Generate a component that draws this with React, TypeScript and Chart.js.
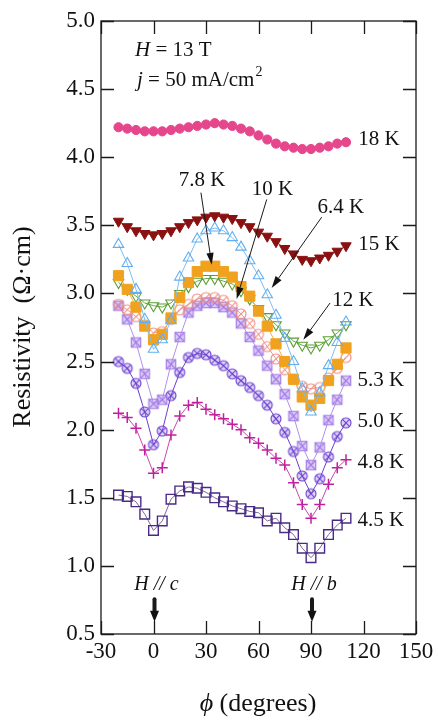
import React, { useEffect, useRef } from "react";
import { Chart, registerables } from "chart.js";
Chart.register(...registerables);

// ---- data ----
const angles = [-20, -15, -10, -5, 0, 5, 10, 15, 20, 25, 30, 35, 40, 45, 50, 55, 60, 65, 70, 75, 80, 85, 90, 95, 100, 105, 110];
const xTickValues = [-30, 0, 30, 60, 90, 120, 150];
const yTickValues = [0.5, 1.0, 1.5, 2.0, 2.5, 3.0, 3.5, 4.0, 4.5, 5.0];

const rho18K = [4.22, 4.21, 4.20, 4.19, 4.19, 4.19, 4.20, 4.21, 4.22, 4.23, 4.24, 4.25, 4.24, 4.23, 4.21, 4.19, 4.16, 4.13, 4.10, 4.08, 4.07, 4.06, 4.06, 4.07, 4.08, 4.10, 4.11];
const rho15K = [3.53, 3.49, 3.46, 3.44, 3.43, 3.44, 3.46, 3.49, 3.52, 3.54, 3.56, 3.57, 3.56, 3.55, 3.52, 3.49, 3.45, 3.42, 3.38, 3.33, 3.29, 3.25, 3.24, 3.26, 3.28, 3.31, 3.35];
const rho12K = [3.08, 3.03, 2.98, 2.93, 2.91, 2.90, 2.93, 3.00, 3.05, 3.09, 3.11, 3.11, 3.09, 3.07, 3.02, 2.96, 2.89, 2.83, 2.77, 2.71, 2.65, 2.62, 2.60, 2.62, 2.66, 2.71, 2.77];
const rho10K = [2.92, 2.88, 2.83, 2.77, 2.71, 2.72, 2.81, 2.88, 2.92, 2.96, 2.97, 2.97, 2.95, 2.91, 2.85, 2.78, 2.70, 2.61, 2.52, 2.44, 2.37, 2.32, 2.30, 2.31, 2.38, 2.45, 2.53];
const rho7_8K = [3.36, 3.22, 3.03, 2.81, 2.59, 2.66, 2.80, 3.12, 3.26, 3.40, 3.46, 3.48, 3.46, 3.41, 3.34, 3.24, 3.13, 2.99, 2.84, 2.67, 2.50, 2.30, 2.13, 2.27, 2.47, 2.64, 2.79];
const rho6_4K = [3.13, 3.03, 2.90, 2.76, 2.66, 2.70, 2.82, 2.97, 3.08, 3.16, 3.20, 3.20, 3.16, 3.12, 3.05, 2.98, 2.87, 2.76, 2.63, 2.50, 2.37, 2.24, 2.18, 2.23, 2.36, 2.48, 2.60];
const rho5_3K = [2.91, 2.81, 2.64, 2.41, 2.19, 2.22, 2.48, 2.68, 2.86, 2.91, 2.93, 2.93, 2.90, 2.86, 2.78, 2.68, 2.58, 2.47, 2.37, 2.26, 2.10, 1.88, 1.74, 1.87, 2.07, 2.22, 2.36];
const rho5_0K = [2.50, 2.45, 2.34, 2.13, 1.89, 1.99, 2.25, 2.42, 2.53, 2.56, 2.55, 2.51, 2.47, 2.41, 2.36, 2.31, 2.25, 2.18, 2.08, 1.98, 1.84, 1.66, 1.53, 1.64, 1.80, 1.95, 2.05];
const rho4_8K = [2.12, 2.09, 2.01, 1.85, 1.68, 1.72, 1.96, 2.10, 2.18, 2.20, 2.15, 2.11, 2.08, 2.04, 2.00, 1.94, 1.90, 1.85, 1.79, 1.74, 1.61, 1.45, 1.35, 1.45, 1.60, 1.72, 1.78];
const rho4_5K = [1.52, 1.51, 1.47, 1.38, 1.26, 1.33, 1.49, 1.55, 1.58, 1.57, 1.54, 1.50, 1.47, 1.44, 1.42, 1.40, 1.39, 1.33, 1.35, 1.28, 1.23, 1.13, 1.06, 1.13, 1.23, 1.30, 1.35];

// temperature labels (text, data-space anchor)
const tempLabels: [string, number, number][] = [
  ["18 K", 117, 4.13],
  ["15 K", 117, 3.36],
  ["5.3 K", 116.5, 2.36],
  ["5.0 K", 116.5, 2.06],
  ["4.8 K", 116.5, 1.76],
  ["4.5 K", 116.5, 1.33],
];
const centeredLabels: [string, number, number][] = [
  ["7.8 K", 27.7, 3.83],
  ["10 K", 68, 3.76],
  ["6.4 K", 107, 3.63],
  ["12 K", 114, 2.945],
];
const pointerArrows: [number, number, number, number][] = [
  [27.1, 3.74, 33.3, 3.21],
  [64.7, 3.69, 47.5, 2.96],
  [96.1, 3.56, 67.5, 3.04],
  [100.9, 2.93, 85.6, 2.66],
];

const SERIF = "'Liberation Serif', 'Times New Roman', serif";

function marker(kind: string, stroke: string, fill: string | null, size: number) {
  const pad = 3;
  const s = Math.ceil(size + pad * 2);
  const c = document.createElement("canvas");
  c.width = s;
  c.height = s;
  const g = c.getContext("2d")!;
  const m = s / 2;
  const r = size / 2;
  g.lineWidth = 1.1;
  g.strokeStyle = stroke;
  g.beginPath();
  if (kind.startsWith("circle")) g.arc(m, m, r, 0, Math.PI * 2);
  else g.rect(m - r, m - r, 2 * r, 2 * r);
  if (fill) {
    g.fillStyle = fill;
    g.fill();
  }
  g.stroke();
  g.beginPath();
  const d = kind.startsWith("circle") ? r * 0.72 : r;
  if (kind === "circleSlash") {
    g.moveTo(m - d, m + d);
    g.lineTo(m + d, m - d);
  } else {
    g.moveTo(m - d, m - d);
    g.lineTo(m + d, m + d);
    g.moveTo(m - d, m + d);
    g.lineTo(m + d, m - d);
  }
  g.stroke();
  return c;
}

function drawArrow(ctx: CanvasRenderingContext2D, x1: number, y1: number, x2: number, y2: number) {
  const ang = Math.atan2(y2 - y1, x2 - x1);
  const hl = 12;
  const hw = 3.6;
  const bx = x2 - hl * Math.cos(ang);
  const by = y2 - hl * Math.sin(ang);
  ctx.beginPath();
  ctx.moveTo(x1, y1);
  ctx.lineTo(bx, by);
  ctx.stroke();
  ctx.beginPath();
  ctx.moveTo(x2, y2);
  ctx.lineTo(bx + hw * Math.sin(ang), by - hw * Math.cos(ang));
  ctx.lineTo(bx - hw * Math.sin(ang), by + hw * Math.cos(ang));
  ctx.closePath();
  ctx.fill();
}

const overlay = {
  id: "overlay",
  afterDraw(chart: any) {
    const { ctx, chartArea: a, scales } = chart;
    const x = scales.x;
    const y = scales.y;
    ctx.save();
    ctx.strokeStyle = "#1a1a1a";
    ctx.fillStyle = "#111";
    ctx.lineWidth = 1.3;
    ctx.strokeRect(a.left, a.top, a.right - a.left, a.bottom - a.top);
    const tl = 13;
    ctx.beginPath();
    xTickValues.forEach((v) => {
      const px = Math.round(x.getPixelForValue(v)) + 0.5;
      ctx.moveTo(px, a.bottom);
      ctx.lineTo(px, a.bottom - tl);
      ctx.moveTo(px, a.top);
      ctx.lineTo(px, a.top + tl);
    });
    yTickValues.forEach((v) => {
      const py = Math.round(y.getPixelForValue(v)) + 0.5;
      ctx.moveTo(a.left, py);
      ctx.lineTo(a.left + tl, py);
      ctx.moveTo(a.right, py);
      ctx.lineTo(a.right - tl, py);
    });
    ctx.stroke();

    // temperature labels
    ctx.font = `21px ${SERIF}`;
    ctx.textBaseline = "middle";
    ctx.textAlign = "left";
    tempLabels.forEach(([t, dx, dy]) => {
      ctx.fillText(t, x.getPixelForValue(dx), y.getPixelForValue(dy));
    });
    ctx.textAlign = "center";
    centeredLabels.forEach(([t, dx, dy]) => {
      ctx.fillText(t, x.getPixelForValue(dx), y.getPixelForValue(dy));
    });
    ctx.lineWidth = 1;
    pointerArrows.forEach(([x1, y1, x2, y2]) => {
      drawArrow(ctx, x.getPixelForValue(x1), y.getPixelForValue(y1), x.getPixelForValue(x2), y.getPixelForValue(y2));
    });

    // H = 13 T, j = 50 mA/cm2
    ctx.textAlign = "left";
    ctx.textBaseline = "alphabetic";
    const hx = a.left + 34;
    ctx.font = `italic 21px ${SERIF}`;
    ctx.fillText("H", hx, 56);
    let w = ctx.measureText("H").width;
    ctx.font = `21px ${SERIF}`;
    ctx.fillText(" = 13 T", hx + w, 56);
    ctx.font = `italic 21px ${SERIF}`;
    ctx.fillText("j", hx + 2, 86);
    w = ctx.measureText("j").width;
    ctx.font = `21px ${SERIF}`;
    const s2 = " = 50 mA/cm";
    ctx.fillText(s2, hx + 2 + w, 86);
    const w2 = ctx.measureText(s2).width;
    ctx.font = `14px ${SERIF}`;
    ctx.fillText("2", hx + 2 + w + w2 + 1, 76);

    // H // c and H // b
    const dirLabels: [string, number][] = [["c", 0], ["b", 90]];
    dirLabels.forEach(([ax, deg]) => {
      const cx = x.getPixelForValue(deg) + 1;
      ctx.font = `italic 20px ${SERIF}`;
      ctx.textAlign = "center";
      ctx.fillText(`H // ${ax}`, cx + 2, y.getPixelForValue(0.82));
      const top = y.getPixelForValue(0.755);
      const tip = y.getPixelForValue(0.59);
      ctx.lineWidth = 4;
      ctx.lineCap = "round";
      ctx.beginPath();
      ctx.moveTo(cx, top);
      ctx.lineTo(cx, tip - 9);
      ctx.stroke();
      ctx.lineCap = "butt";
      ctx.beginPath();
      ctx.moveTo(cx - 4.5, tip - 11);
      ctx.lineTo(cx + 4.5, tip - 11);
      ctx.lineTo(cx, tip);
      ctx.closePath();
      ctx.fill();
    });

    // axis titles
    ctx.save();
    ctx.translate(23, 327);
    ctx.rotate(-Math.PI / 2);
    ctx.font = `26px ${SERIF}`;
    ctx.textAlign = "center";
    ctx.textBaseline = "middle";
    ctx.fillText("Resistivity  (\u03A9\u00B7cm)", 0, 0);
    ctx.restore();

    ctx.textAlign = "left";
    ctx.textBaseline = "alphabetic";
    ctx.font = `italic 26px ${SERIF}`;
    const phi = "\u03D5";
    const wp = ctx.measureText(phi).width;
    ctx.font = `26px ${SERIF}`;
    const rest = " (degrees)";
    const wr = ctx.measureText(rest).width;
    const start = 258 - (wp + wr) / 2;
    ctx.font = `italic 26px ${SERIF}`;
    ctx.fillText(phi, start, 711);
    ctx.font = `26px ${SERIF}`;
    ctx.fillText(rest, start + wp, 711);
    ctx.restore();
  },
};

export default function App() {
  const ref = useRef<HTMLCanvasElement | null>(null);
  useEffect(() => {
    if (!ref.current) return;
    const pts = (arr: number[]) => angles.map((a, i) => ({ x: a, y: arr[i] }));
    const base = { showLine: true, borderWidth: 1, tension: 0, pointHoverRadius: 0 };
    const mk10 = marker("circleSlash", "#ee8a7e", null, 10);
    const mk53 = marker("squareX", "#a27ae6", "rgba(190,160,240,0.55)", 9.5);
    const mk50 = marker("circleX", "#6a3fcf", "rgba(150,120,230,0.3)", 10);
    const chart = new Chart(ref.current, {
      type: "line",
      data: {
        datasets: [
          { ...base, label: "18 K", data: pts(rho18K), borderColor: "#e8609a", pointStyle: "circle", pointRadius: 4.6, pointBackgroundColor: "#e5468c", pointBorderColor: "#e5468c" },
          { ...base, label: "15 K", data: pts(rho15K), borderColor: "#9a3030", pointStyle: "triangle", pointRotation: 180, pointRadius: 6, pointBackgroundColor: "#8a1111", pointBorderColor: "#8a1111" },
          { ...base, label: "7.8 K", data: pts(rho7_8K), borderColor: "#7dbcf2", pointStyle: "triangle", pointRadius: 6, pointBackgroundColor: "rgba(255,255,255,0)", pointBorderColor: "#62aef0", pointBorderWidth: 1.1 },
          { ...base, label: "6.4 K", data: pts(rho6_4K), borderColor: "#f2b24a", pointStyle: "rect", pointRadius: 7.2, pointBackgroundColor: "#f0a21e", pointBorderColor: "#f0a21e" },
          { ...base, label: "12 K", data: pts(rho12K), borderColor: "#6aa846", pointStyle: "triangle", pointRotation: 180, pointRadius: 6, pointBackgroundColor: "rgba(255,255,255,0)", pointBorderColor: "#5b9e35", pointBorderWidth: 1.1 },
          { ...base, label: "10 K", data: pts(rho10K), borderColor: "#f09a8e", pointStyle: mk10 },
          { ...base, label: "5.3 K", data: pts(rho5_3K), borderColor: "#b090ea", pointStyle: mk53 },
          { ...base, label: "5.0 K", data: pts(rho5_0K), borderColor: "#6a3fcf", pointStyle: mk50 },
          { ...base, label: "4.8 K", data: pts(rho4_8K), borderColor: "#c84aa8", pointStyle: "cross", pointRadius: 5.5, pointBorderColor: "#c0209f", pointBorderWidth: 1.5 },
          { ...base, label: "4.5 K", data: pts(rho4_5K), borderColor: "#7a6a96", pointStyle: "rect", pointRadius: 6.8, pointBackgroundColor: "rgba(255,255,255,0)", pointBorderColor: "#4a2a86", pointBorderWidth: 1.4 },
        ],
      },
      options: {
        responsive: false,
        animation: false,
        events: [],
        layout: { padding: { top: 21, right: 22, left: 0, bottom: 0 } },
        plugins: { legend: { display: false }, tooltip: { enabled: false } },
        scales: {
          x: {
            type: "linear",
            min: xTickValues[0],
            max: xTickValues[xTickValues.length - 1],
            afterBuildTicks: (s: any) => {
              s.ticks = xTickValues.map((v) => ({ value: v }));
            },
            ticks: { font: { family: SERIF, size: 23 }, color: "#111", padding: 4, maxRotation: 0, autoSkip: false },
            grid: { display: false, drawTicks: false },
            border: { display: false },
            afterFit: (s: any) => {
              s.height = 86;
            },
          },
          y: {
            type: "linear",
            min: yTickValues[0],
            max: yTickValues[yTickValues.length - 1],
            afterBuildTicks: (s: any) => {
              s.ticks = yTickValues.map((v) => ({ value: v }));
            },
            ticks: { font: { family: SERIF, size: 23 }, color: "#111", padding: 6, callback: (v: any) => Number(v).toFixed(1) },
            grid: { display: false, drawTicks: false },
            border: { display: false },
            afterFit: (s: any) => {
              s.width = 101;
            },
          },
        },
      },
      plugins: [overlay],
    } as any);
    return () => chart.destroy();
  }, []);
  return (
    <div style={{ position: "fixed", left: 0, top: 0, width: 438, height: 720, background: "#fff" }}>
      <canvas ref={ref} width={438} height={720} style={{ width: 438, height: 720, display: "block" }} />
    </div>
  );
}
